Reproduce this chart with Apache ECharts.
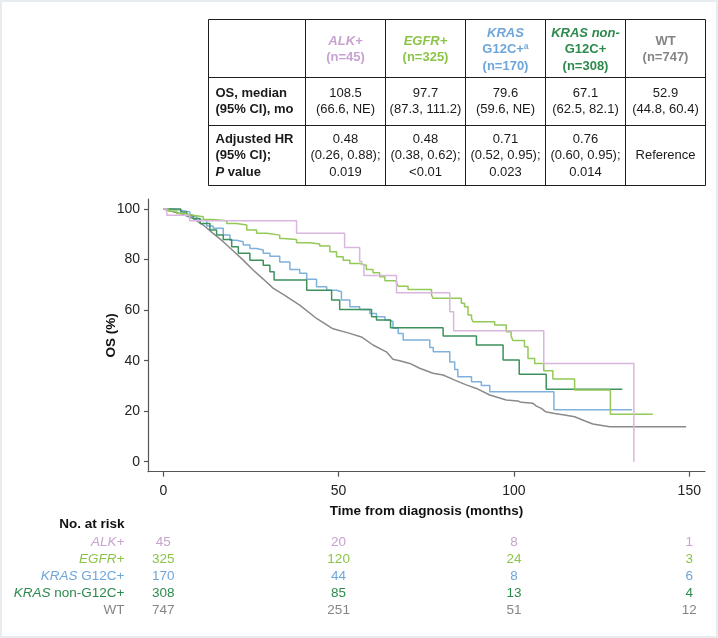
<!DOCTYPE html>
<html><head><meta charset="utf-8">
<script src="https://cdn.jsdelivr.net/npm/echarts@6/dist/echarts.min.js"></script>
<style>
html,body{margin:0;padding:0;background:#fff;}
#wrap{position:relative;width:718px;height:638px;}
#chart{width:718px;height:638px;}
#frame{position:absolute;left:0;top:0;right:0;bottom:0;border:2px solid #e7ecf1;pointer-events:none;}
</style></head><body>
<div id="wrap"><div id="chart"></div><div id="frame"></div></div>
<script>
// ---------- data ----------
const groups = ['ALK+', 'EGFR+', 'KRAS G12C+', 'KRAS non-G12C+', 'WT'];
const groupN = [45, 325, 170, 308, 747];
const osMedian = ['108.5', '97.7', '79.6', '67.1', '52.9'];
const osCI = ['(66.6, NE)', '(87.3, 111.2)', '(59.6, NE)', '(62.5, 82.1)', '(44.8, 60.4)'];
const hrValue = ['0.48', '0.48', '0.71', '0.76', 'Reference'];
const hrCI = ['(0.26, 0.88);', '(0.38, 0.62);', '(0.52, 0.95);', '(0.60, 0.95);', ''];
const pValue = ['0.019', '<0.01', '0.023', '0.014', ''];

const xTicks = [0, 50, 100, 150];
const yTicks = [0, 20, 40, 60, 80, 100];

// KM curves: [month, OS %]
const kmALK = [[0,100],[1.0,97.6],[7.5,95.4],[38.0,90.4],[51.7,84.8],[56.0,79.3],[56.6,78.0],[57.2,73.7],[66.5,66.9],[81.7,59.4],[82.8,51.8],[108.5,38.9],[134.2,0]];
const kmEGFR = [[0,100],[1.5,99.2],[3.8,98.3],[6,97.6],[8.5,97.0],[11.4,95.9],[14.2,95.4],[18.1,94.3],[20.9,93.7],[23.8,91.7],[26.6,90.4],[29.5,89.7],[33.2,88.4],[34.2,88.0],[38.0,86.7],[41.8,86.2],[44.6,85.4],[47.5,83.1],[49.4,81.1],[51.3,79.8],[53.2,78.5],[56.0,77.8],[57.9,76.1],[59.8,74.8],[61.7,73.2],[63.2,71.6],[66.5,70.8],[67.0,69.5],[69.8,68.2],[76.5,66.0],[76.9,64.7],[85.0,62.7],[85.9,61.3],[86.9,58.1],[87.9,56.7],[88.3,55.4],[94.5,54.1],[97.8,51.4],[99.2,49.7],[99.7,48.0],[103.0,45.5],[104.0,40.9],[105.9,38.9],[108.5,36.0],[111.1,32.7],[117.3,28.4],[127.5,18.8],[139.6,18.8]];
const kmKRASG12C = [[0,100],[2.5,99.6],[4.8,98.9],[7.6,97.2],[9.5,95.6],[12.4,93.3],[14.2,92.4],[17.1,89.7],[19.0,87.7],[20.9,87.1],[22.8,85.8],[24.7,84.4],[26.6,83.8],[28.5,82.5],[30.4,81.3],[33.2,79.1],[36.1,76.1],[38.9,74.6],[40.9,72.2],[43.7,69.3],[46.6,67.9],[49.4,67.3],[50.8,64.0],[53.2,61.3],[56.0,60.3],[58.9,58.7],[60.8,57.4],[63.2,56.1],[64.6,55.4],[65.5,52.8],[67.0,50.8],[68.4,48.2],[76.0,45.2],[77.0,43.5],[81.7,39.5],[83.1,36.5],[84.0,33.6],[87.9,31.7],[90.7,30.2],[93.1,27.7],[111.4,20.6],[133.7,20.6]];
const kmKRASnon = [[0,100],[5.0,98.9],[6.7,97.6],[8.5,96.3],[10.5,94.3],[13.3,91.7],[15.2,89.7],[17.1,88.0],[19.5,85.1],[21.4,82.5],[24.7,79.8],[28.5,77.8],[30.4,75.2],[31.6,71.9],[40.9,67.9],[48.0,64.0],[50.3,60.3],[59.4,57.4],[60.8,56.1],[64.8,53.0],[79.8,49.8],[89.3,46.2],[96.9,40.3],[101.5,34.6],[109.2,28.7],[130.9,28.7]];
const kmWT = [[0,100],[2,99.2],[4.8,98.3],[8.5,96.3],[11.4,93.7],[14.2,90.4],[17.1,87.1],[19.9,83.5],[22.8,79.8],[25.6,75.9],[28.5,72.3],[31.3,68.7],[34.2,66.2],[38.9,62.0],[43.7,56.7],[48.4,52.6],[53.2,50.8],[56.5,49.4],[59.8,46.2],[63.6,43.5],[65.5,40.6],[67.4,40.0],[70.3,38.9],[73.1,37.0],[76.9,35.0],[79.8,34.3],[83.1,32.3],[86.4,30.4],[89.3,29.0],[93.1,26.4],[97.8,24.4],[101.1,24.0],[102.1,23.5],[105.4,23.1],[106.4,22.0],[107.8,21.1],[109.0,19.8],[111.6,19.1],[114.4,18.5],[117.3,17.8],[120.1,16.2],[122.5,14.9],[127.3,13.8],[149.1,13.8]];

const riskTimes = [0, 50, 100, 150];
const riskALK = [45, 20, 8, 1];
const riskEGFR = [325, 120, 24, 3];
const riskKRASG12C = [170, 44, 8, 6];
const riskKRASnon = [308, 85, 13, 4];
const riskWT = [747, 251, 51, 12];

// ---------- styles ----------
const FONT = "'Liberation Sans', Arial, sans-serif";
const curveColors = ['#d8b6dd', '#93c957', '#7eb1dd', '#3d915c', '#8a8a8a'];
const textColors = ['#c8a3d0', '#8cc44a', '#6ea6da', '#2d8a4d', '#858585'];

const chart = echarts.init(document.getElementById('chart'), null, {renderer: 'canvas'});

const kmSets = [kmWT, kmKRASG12C, kmKRASnon, kmEGFR, kmALK];
const kmIdx = [4, 2, 3, 1, 0];

chart.setOption({
  animation: false,
  backgroundColor: '#ffffff',
  grid: {left: 148, right: 13, top: 199, bottom: 166.3, containLabel: false},
  xAxis: {
    type: 'value', min: -4.36, max: 154.48,
    name: 'Time from diagnosis (months)', nameLocation: 'middle', nameGap: 33, nameMoveOverlap: false,
    nameTextStyle: {fontFamily: FONT, fontSize: 13.5, fontWeight: 'bold', color: '#111'},
    axisLine: {show: true, onZero: false, lineStyle: {color: '#555', width: 1.2}},
    axisTick: {show: true, length: 5, customValues: xTicks, lineStyle: {color: '#555', width: 1.2}},
    axisLabel: {customValues: xTicks, margin: 12, fontFamily: FONT, fontSize: 14, color: '#222'},
    splitLine: {show: false}
  },
  yAxis: {
    type: 'value', min: -3.96, max: 104,
    name: 'OS (%)', nameLocation: 'middle', nameGap: 30, nameRotate: 90, nameMoveOverlap: false,
    nameTextStyle: {fontFamily: FONT, fontSize: 13.5, fontWeight: 'bold', color: '#111'},
    axisLine: {show: true, onZero: false, lineStyle: {color: '#555', width: 1.2}},
    axisTick: {show: true, length: 4, customValues: yTicks, lineStyle: {color: '#555', width: 1.2}},
    axisLabel: {customValues: yTicks, margin: 8, fontFamily: FONT, fontSize: 14, color: '#222'},
    splitLine: {show: false}
  },
  series: kmSets.map((d, i) => ({
    type: 'line', name: groups[kmIdx[i]], data: d,
    step: kmIdx[i] === 4 ? false : 'end',
    showSymbol: false, symbol: 'none',
    lineStyle: {color: curveColors[kmIdx[i]], width: 1.5},
    z: 2 + i
  }))
});

// ---------- table + risk table graphics ----------
const g = [];
const colX = [208.5, 305.5, 385.5, 465.5, 545.5, 625.5, 705.5];
const rowY = [19.5, 77.5, 125.5, 185.5];
colX.forEach(x => g.push({type: 'line', shape: {x1: x, y1: rowY[0], x2: x, y2: rowY[3]}, style: {stroke: '#1e1e1e', lineWidth: 1}}));
rowY.forEach(y => g.push({type: 'line', shape: {x1: colX[0], y1: y, x2: colX[6], y2: y}, style: {stroke: '#1e1e1e', lineWidth: 1}}));

const LH = 16.5, FS = 13;
function rich(color) {
  return {
    b: {fontFamily: FONT, fontSize: FS, fontWeight: 'bold', fill: color, lineHeight: LH},
    bi: {fontFamily: FONT, fontSize: FS, fontWeight: 'bold', fontStyle: 'italic', fill: color, lineHeight: LH},
    n: {fontFamily: FONT, fontSize: FS, fill: color, lineHeight: LH}
  };
}
function txt(x, y, text, color, align) {
  g.push({type: 'text', x: x, y: y, style: {text: text, rich: rich(color), align: align || 'center', textAlign: align || 'center', verticalAlign: 'middle', textVerticalAlign: 'middle', fill: color}});
}
const headerText = [
  '{bi|ALK+}\n{b|(n=' + groupN[0] + ')}',
  '{bi|EGFR+}\n{b|(n=' + groupN[1] + ')}',
  '{bi|KRAS}\n{b|G12C+\u00aa}\n{b|(n=' + groupN[2] + ')}',
  '{bi|KRAS non-}\n{b|G12C+}\n{b|(n=' + groupN[3] + ')}',
  '{b|WT}\n{b|(n=' + groupN[4] + ')}'
];
const rowMid = [49.5, 101.5, 155.5];
for (let c = 0; c < 5; c++) {
  const cx = (colX[c + 1] + colX[c + 2]) / 2;
  txt(cx, rowMid[0], headerText[c], textColors[c]);
  txt(cx, rowMid[1], '{n|' + osMedian[c] + '}\n{n|' + osCI[c] + '}', '#1a1a1a');
  const hr = hrCI[c] ? '{n|' + hrValue[c] + '}\n{n|' + hrCI[c] + '}\n{n|' + pValue[c] + '}' : '{n|' + hrValue[c] + '}';
  txt(cx, rowMid[2], hr, '#1a1a1a');
}
txt(215.5, rowMid[1], '{b|OS, median}\n{b|(95% CI), mo}', '#1a1a1a', 'left');
txt(215.5, rowMid[2], '{b|Adjusted HR}\n{b|(95% CI);}\n{bi|P}{b| value}', '#1a1a1a', 'left');

// risk table
const riskRows = [riskALK, riskEGFR, riskKRASG12C, riskKRASnon, riskWT];
const riskLabels = ['{i|ALK+}', '{i|EGFR+}', '{i|KRAS}{n| G12C+}', '{i|KRAS}{n| non-G12C+}', '{n|WT}'];
const riskY = [542.3, 559.3, 576.3, 593.3, 610.3];
g.push({type: 'text', x: 124.5, y: 524.3, style: {text: 'No. at risk', fill: '#111', font: 'bold 13.5px ' + FONT, align: 'right', textAlign: 'right', verticalAlign: 'middle', textVerticalAlign: 'middle'}});
riskRows.forEach((row, r) => {
  const col = textColors[r];
  g.push({type: 'text', x: 124.5, y: riskY[r], style: {text: riskLabels[r], align: 'right', textAlign: 'right', verticalAlign: 'middle', textVerticalAlign: 'middle',
    rich: {i: {fontFamily: FONT, fontSize: 13.5, fontStyle: 'italic', fill: col}, n: {fontFamily: FONT, fontSize: 13.5, fill: col}}}});
  row.forEach((v, k) => {
    const px = chart.convertToPixel({xAxisIndex: 0}, riskTimes[k]);
    g.push({type: 'text', x: px, y: riskY[r], style: {text: String(v), fill: col, font: '13.5px ' + FONT, align: 'center', textAlign: 'center', verticalAlign: 'middle', textVerticalAlign: 'middle'}});
  });
});
chart.setOption({graphic: {elements: g}});
</script>
</body></html>
